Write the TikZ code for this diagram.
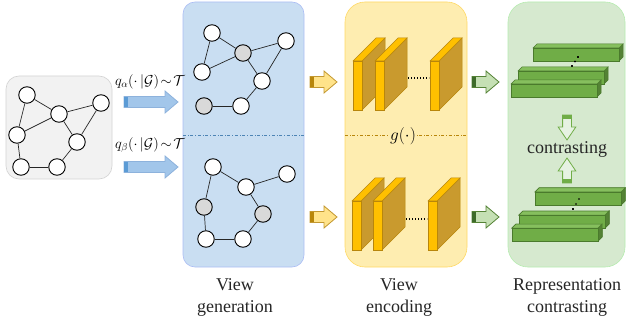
\documentclass[tikz,border=0pt]{standalone}
\usepackage{fontspec}
\setmainfont{Liberation Serif}
\usetikzlibrary{arrows.meta}

\definecolor{boxgray}{HTML}{F2F2F2}
\definecolor{boxline}{HTML}{D3D3D3}
\definecolor{nodegray}{HTML}{D9D9D9}
\definecolor{panelblue}{HTML}{C9DEF2}
\definecolor{panelyellow}{HTML}{FEEDB0}
\definecolor{panelgreen}{HTML}{D6E9CF}
\definecolor{convfront}{HTML}{FFC000}
\definecolor{convside}{HTML}{C99A2E}
\definecolor{convline}{HTML}{B8860B}
\definecolor{barfront}{HTML}{70AD47}
\definecolor{bartop}{HTML}{86BF5E}
\definecolor{barside}{HTML}{548235}
\definecolor{barline}{HTML}{4A7A2C}
\definecolor{arrblue}{HTML}{A2C6EA}
\definecolor{arrblueline}{HTML}{8DB2DC}
\definecolor{arrbluetail}{HTML}{5B9BD5}
\definecolor{arryellow}{HTML}{FFE38A}
\definecolor{arrgreen}{HTML}{C5E0B4}
\definecolor{arrgreentail}{HTML}{3D6B2A}

% block arrow: x, y, length, rotation, fill, outline, tail colour, width factor
\newcommand{\blockarrow}[8]{%
  \begin{scope}[shift={(#1,#2)}, rotate=#4, yscale=#8]
    \filldraw[fill=#5, draw=#6, line width=0.8pt] (0,-5.5) -- (#3-13,-5.5) -- (#3-13,-11)
      -- (#3,0) -- (#3-13,11) -- (#3-13,5.5) -- (0,5.5) -- cycle;
    \fill[#7] (0.4,-5.1) rectangle (4,5.1);
  \end{scope}}

% conv layer: front top-left corner
\newcommand{\convblock}[2]{%
  \filldraw[fill=convside, draw=convline, line width=0.5pt] (#1+9,#2) -- (#1+32,#2-23) -- (#1+32,#2+26) -- (#1+9,#2+49) -- cycle;
  \filldraw[fill=convfront, draw=convline, line width=0.5pt] (#1,#2) -- (#1+23,#2-23) -- (#1+32,#2-23) -- (#1+9,#2) -- cycle;
  \filldraw[fill=convfront, draw=convline, line width=0.5pt] (#1,#2) rectangle (#1+9,#2+49);}

% representation bar: front top-left corner
\newcommand{\greenbar}[2]{%
  \filldraw[fill=barside, draw=barline, line width=0.5pt] (#1+86,#2) -- (#1+90,#2-4) -- (#1+90,#2+9) -- (#1+86,#2+13) -- cycle;
  \filldraw[fill=bartop, draw=barline, line width=0.5pt] (#1,#2) -- (#1+4,#2-4) -- (#1+90,#2-4) -- (#1+86,#2) -- cycle;
  \filldraw[fill=barfront, draw=barline, line width=0.5pt] (#1,#2) rectangle (#1+86,#2+13);}

\begin{document}
\begin{tikzpicture}[
    x=1pt, y=-1pt,
    vtx/.style={circle, draw=black, line width=0.9pt, fill=white, minimum size=16.5pt, inner sep=0pt},
    edge/.style={black!85, line width=0.7pt},
    panel/.style={rounded corners=#1, line width=0.6pt},
    caption/.style={align=center, inner sep=0pt, text=black!85, font=\fontsize{18}{22}\selectfont}
]
\useasboundingbox (0,0) rectangle (626,323);

% Panels
\filldraw[panel=13pt, fill=boxgray, draw=boxline] (6,76) rectangle (112,179);
\filldraw[panel=12pt, fill=panelblue, draw=panelblue!85!blue] (183,2) rectangle (304,267);
\filldraw[panel=20pt, fill=panelyellow, draw=convfront!60] (345,2) rectangle (467,267);
\filldraw[panel=20pt, fill=panelgreen, draw=panelgreen!85!green] (508,2) rectangle (625,267);

% Dividers
\draw[dash dot, color=arrbluetail!85!black, line width=0.7pt] (183,135) -- (304,135);
\draw[dash dot, color=convline, line width=0.6pt] (345,135) -- (467,135);

% Input graph
\foreach \n/\x/\y in {1/27/95, 2/101/103, 3/59/114, 4/17/135, 5/77/142, 6/21/167, 7/57/167}
    \node[vtx] (o\n) at (\x,\y) {};
\foreach \a/\b in {1/3, 1/4, 3/2, 3/4, 3/5, 2/5, 4/6, 6/7, 7/5}
    \draw[edge] (o\a) -- (o\b);

% Augmented view alpha
\foreach \n/\x/\y/\f in {1/212/33/white, 2/286/41/white, 3/243/53/nodegray, 4/202/72/white,
                         5/262/81/white, 6/204/106/nodegray, 7/241/106/white}
    \node[vtx, fill=\f] (t\n) at (\x,\y) {};
\foreach \a/\b in {1/3, 1/4, 3/2, 3/4, 3/5, 2/5, 6/7, 7/5}
    \draw[edge] (t\a) -- (t\b);

% Augmented view beta
\foreach \n/\x/\y/\f in {1/213/167/white, 2/287/174/white, 3/246/187/white, 4/204/207/nodegray,
                         5/263/214/nodegray, 6/206/239/white, 7/243/239/white}
    \node[vtx, fill=\f] (b\n) at (\x,\y) {};
\foreach \a/\b in {1/3, 1/4, 3/2, 3/5, 4/6, 6/7, 7/5}
    \draw[edge] (b\a) -- (b\b);

% Augmentation arrows
\foreach \y in {102, 167}
    \blockarrow{124}{\y}{54}{0}{arrblue}{arrblueline}{arrbluetail}{1};
\node[font=\fontsize{14}{16}\selectfont] (qa) at (150,82) {$q_\alpha(\cdot\,|\mathcal{G})\!\sim\!\mathcal{T}$};
\node[font=\fontsize{14}{16}\selectfont] (qb) at (150,145) {$q_\beta(\cdot\,|\mathcal{G})\!\sim\!\mathcal{T}$};

% Encoder arrows
\foreach \y in {82, 217}
    \blockarrow{310}{\y}{27}{0}{arryellow}{convline!85}{convline}{1};

% Encoder layers
\foreach \x in {353, 375}
    \convblock{\x}{61}
\draw[dash pattern=on 1.2pt off 1.8pt, line width=1.2pt] (408,78) -- (429,78);
\convblock{430}{61}
\foreach \x in {352, 373}
    \convblock{\x}{201}
\draw[dash pattern=on 1.2pt off 1.8pt, line width=1.2pt] (406,219) -- (427,219);
\convblock{428}{201}
\node[fill=panelyellow, inner sep=1.5pt, font=\fontsize{17}{19}\selectfont] (enc) at (403,136) {$g(\cdot)$};

% Projection arrows
\foreach \y in {82, 217}
    \blockarrow{472}{\y}{27}{0}{arrgreen}{barside}{arrgreentail}{1};

% Representations
\foreach \x/\y in {533/48, 518/71, 511/84}
    \greenbar{\x}{\y}
\foreach \x/\y in {535/192, 519/215, 512/228}
    \greenbar{\x}{\y}
\foreach \x/\y in {578/57, 575/61.5, 572/66, 579/199, 576/204, 573/209}
    \fill (\x,\y) circle (0.7pt);

% Contrast
\blockarrow{567}{115}{25}{-90}{panelgreen!60!white}{barfront}{barfront}{0.8};
\blockarrow{567}{183}{25}{90}{panelgreen!60!white}{barfront}{barfront}{0.8};
\node[font=\fontsize{18}{20}\selectfont, text=black!85] (con) at (567,149) {contrasting};

% Captions
\node[caption] (gencap) at (235,297) {View\\generation};
\node[caption] (enccap) at (399,297) {View\\encoding};
\node[caption] (repcap) at (567,297) {Representation\\contrasting};

\end{tikzpicture}
\end{document}
